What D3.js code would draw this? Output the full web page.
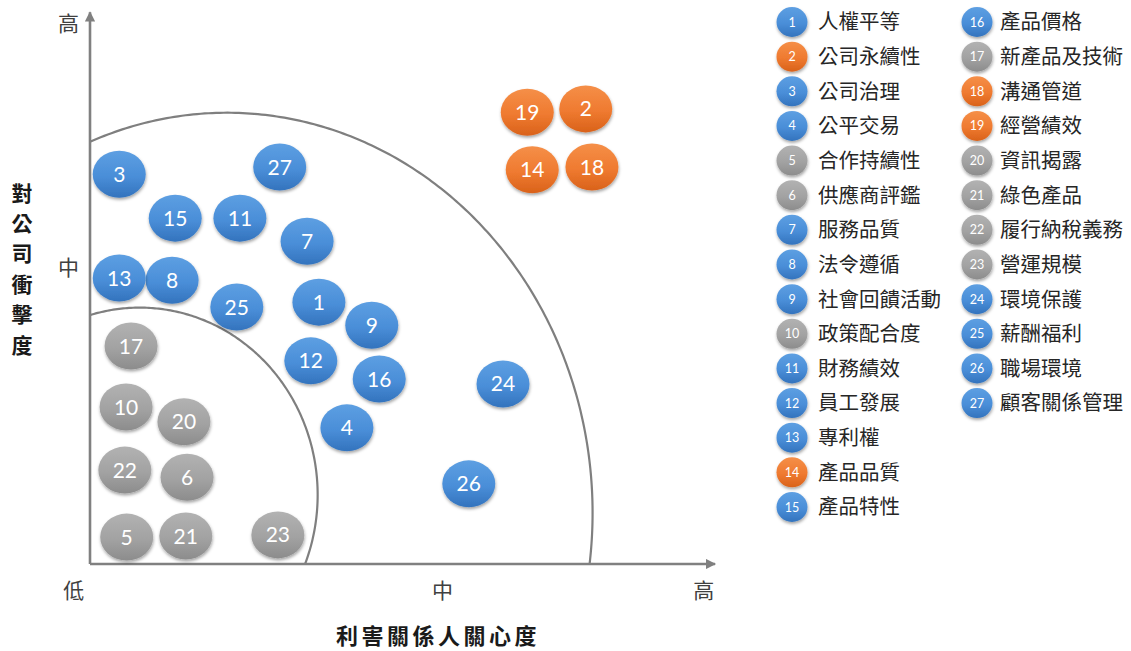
<!DOCTYPE html>
<html><head><meta charset="utf-8">
<script src="https://cdn.jsdelivr.net/npm/d3@7"></script>
<style>
html,body{margin:0;padding:0;background:#fff;}
svg{display:block;}
</style></head>
<body>
<svg id="chart" width="1131" height="651"></svg>
<script>
// ---- data ----
const ids = [1,2,3,4,5,6,7,8,9,10,11,12,13,14,15,16,17,18,19,20,21,22,23,24,25,26,27];
const labels = ["人權平等","公司永續性","公司治理","公平交易","合作持續性","供應商評鑑","服務品質","法令遵循","社會回饋活動","政策配合度","財務績效","員工發展","專利權","產品品質","產品特性","產品價格","新產品及技術","溝通管道","經營績效","資訊揭露","綠色產品","履行納稅義務","營運規模","環境保護","薪酬福利","職場環境","顧客關係管理"];
// stakeholder concern (x), impact on company (y), on a 0-10 scale
const concern = [3.68,7.97,0.47,4.13,0.59,1.56,3.49,1.32,4.53,0.58,2.41,3.55,0.47,7.11,1.37,4.65,0.66,8.07,7.03,1.51,1.54,0.56,3.02,6.64,2.36,6.09,3.05];
const impact  = [4.77,8.29,7.10,2.48,0.49,1.58,5.88,5.17,4.35,2.86,6.30,3.70,5.21,7.18,6.30,3.37,3.97,7.23,8.23,2.59,0.51,1.71,0.53,3.28,4.68,1.46,7.23];
const level   = ["mid","high","mid","mid","low","low","mid","mid","mid","low","mid","mid","mid","high","mid","mid","low","high","high","low","low","low","low","mid","mid","mid","mid"];
const xTickLabels = ["低","中","高"];
const xTickValues = [-0.27,5.66,9.86];
const yTickLabels = ["中","高"];
const yTickValues = [5.39,9.84];
const xTitle = "利害關係人關心度";
const yTitle = "對公司衝擊度";
// zone boundaries (ellipse arcs in data units): [cx, cy, rx, ry]
const zones = [[0.80,1.26,2.86,3.41],[2.20,0.93,5.88,7.29]];

// ---- layout ----
const svg = d3.select("#chart");
const x = d3.scaleLinear().domain([0,10]).range([90,712]);
const y = d3.scaleLinear().domain([0,10]).range([564,15]);
const cjk = "'Noto Sans CJK TC','Noto Sans CJK SC',sans-serif";
const numFont = "Lato,'Open Sans',sans-serif";

const defs = svg.append("defs");
const palette = {
  mid:  {top:"#5d9fe2", mid:"#4a8ed8", bot:"#3373bd"},
  high: {top:"#f58f48", mid:"#ef7a30", bot:"#d9621a"},
  low:  {top:"#b2b2b2", mid:"#a2a2a2", bot:"#8c8c8c"}
};
Object.entries(palette).forEach(([k,c])=>{
  const g = defs.append("linearGradient").attr("id","g-"+k).attr("x1",0).attr("y1",0).attr("x2",0).attr("y2",1);
  g.append("stop").attr("offset","0%").attr("stop-color",c.top);
  g.append("stop").attr("offset","55%").attr("stop-color",c.mid);
  g.append("stop").attr("offset","100%").attr("stop-color",c.bot);
});
const f = defs.append("filter").attr("id","shadow").attr("x","-30%").attr("y","-30%").attr("width","160%").attr("height","170%");
f.append("feDropShadow").attr("dx",0.5).attr("dy",2).attr("stdDeviation",1.6).attr("flood-color","#000").attr("flood-opacity",0.35);

defs.append("marker").attr("id","arrow").attr("viewBox","0 0 10 10").attr("refX",9).attr("refY",5)
  .attr("markerWidth",4).attr("markerHeight",4).attr("orient","auto")
  .attr("markerUnits","strokeWidth")
  .append("path").attr("d","M0,0 L10,5 L0,10 z").attr("fill","#808080");

// zone arcs
const line = d3.line().x(d=>x(d[0])).y(d=>y(d[1]));
zones.forEach(([cx,cy,rx,ry])=>{
  const t0 = Math.asin(-cy/ry), t1 = Math.acos(-cx/rx);
  const pts = d3.range(0,201).map(i=>{
    const t = t0 + (t1-t0)*i/200;
    return [cx+rx*Math.cos(t), cy+ry*Math.sin(t)];
  });
  svg.append("path").attr("d",line(pts)).attr("fill","none").attr("stroke","#7f7f7f").attr("stroke-width",2.2);
});

// axes lines
svg.append("line").attr("x1",x(0)).attr("y1",y(0)).attr("x2",x(10.05)).attr("y2",y(0))
  .attr("stroke","#808080").attr("stroke-width",2.6).attr("marker-end","url(#arrow)");
svg.append("line").attr("x1",x(0)).attr("y1",y(0)).attr("x2",x(0)).attr("y2",y(10.05))
  .attr("stroke","#808080").attr("stroke-width",2.6).attr("marker-end","url(#arrow)");

// tick labels via d3 axes
const xAxis = d3.axisBottom(x).tickValues(xTickValues).tickSize(0).tickPadding(19)
  .tickFormat((d,i)=>xTickLabels[i]);
const gx = svg.append("g").attr("transform",`translate(0,${y(0)})`).call(xAxis);
const yAxis = d3.axisLeft(y).tickValues(yTickValues).tickSize(0).tickPadding(11)
  .tickFormat((d,i)=>yTickLabels[i]);
const gy = svg.append("g").attr("transform",`translate(${x(0)},0)`).call(yAxis);
[gx,gy].forEach(g=>{
  g.select(".domain").remove();
  g.selectAll("text").attr("font-family",cjk).attr("font-size",21).attr("fill","#404040");
});

// titles
svg.append("text").attr("x",438).attr("y",644).attr("text-anchor","middle")
  .attr("font-family",cjk).attr("font-size",22).attr("font-weight","bold").attr("fill","#1a1a1a")
  .attr("letter-spacing",3.5).text(xTitle);
svg.append("g").selectAll("text").data(Array.from(yTitle)).join("text")
  .attr("x",22).attr("y",(d,i)=>193+i*30.4+7.5).attr("text-anchor","middle")
  .attr("font-family",cjk).attr("font-size",21).attr("font-weight","bold").attr("fill","#1a1a1a")
  .text(d=>d);

// bubbles
const data = ids.map((id,i)=>({id, label:labels[i], cx:concern[i], cy:impact[i], lv:level[i]}));
const bub = svg.append("g").selectAll("g").data(data).join("g")
  .attr("transform",d=>`translate(${x(d.cx)},${y(d.cy)})`);
bub.append("ellipse").attr("rx",26.5).attr("ry",23.5)
  .attr("fill",d=>`url(#g-${d.lv})`).attr("filter","url(#shadow)");
bub.append("text").attr("text-anchor","middle").attr("dy","0.36em")
  .attr("font-family",numFont).attr("font-size",21).attr("fill","#fff")
  .text(d=>d.id);

// legend
const rowY = d3.scaleLinear().domain([0,14]).range([22,507]);
const cols = [{cx:792, tx:818},{cx:977, tx:1000}];
const leg = svg.append("g").selectAll("g").data(data).join("g")
  .attr("transform",(d,i)=>{
    const c = i<15?0:1, r = i<15?i:i-15;
    return `translate(${cols[c].cx},${rowY(r)})`;
  });
leg.append("ellipse").attr("rx",15.5).attr("ry",15)
  .attr("fill",d=>`url(#g-${d.lv})`).attr("filter","url(#shadow)");
leg.append("text").attr("text-anchor","middle").attr("dy","0.36em")
  .attr("font-family",numFont).attr("font-size",12.5).attr("fill","#fff").text(d=>d.id);
leg.append("text").attr("x",(d,i)=> (i<15?cols[0].tx-cols[0].cx:cols[1].tx-cols[1].cx))
  .attr("dy","0.36em").attr("font-family",cjk).attr("font-size",20.5).attr("fill","#262626")
  .text(d=>d.label);
</script>
</body></html>
